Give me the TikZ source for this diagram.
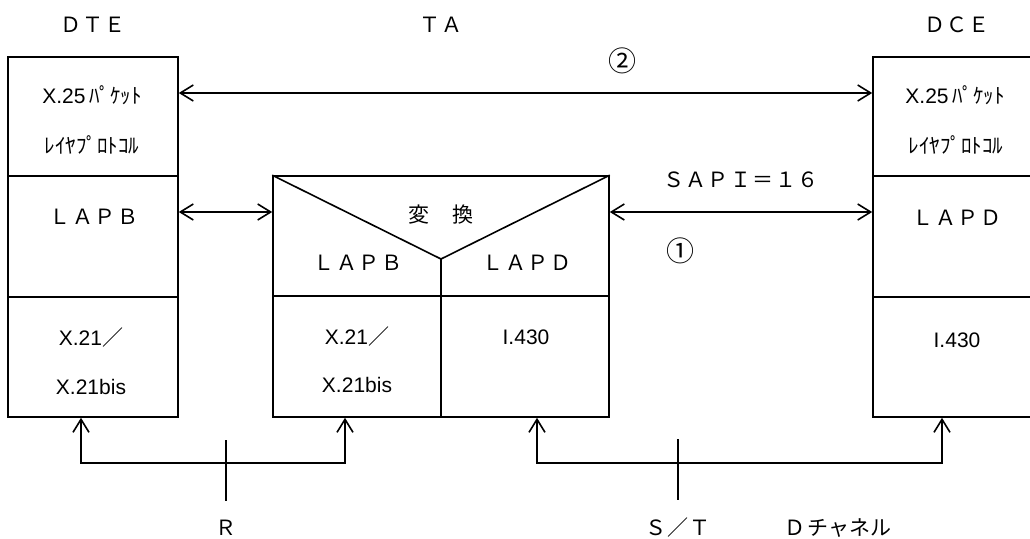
\documentclass[tikz,border=0pt]{standalone}
\usepackage{fontspec}
\setmainfont{Liberation Sans}
\newfontfamily\jpfont{Noto Sans CJK JP}
\usetikzlibrary{arrows.meta}
\def\fwk{1.5pt}
\newcommand\fwsp[1]{\fwspB#1\relax}
\def\fwspB#1{#1\fwspA}
\def\fwspA#1{\ifx\relax#1\else\kern\fwk #1\expandafter\fwspA\fi}
\begin{document}
\begin{tikzpicture}[x=1pt,y=-1pt,
  box/.style={draw, line width=1.6pt, rectangle, inner sep=0pt},
  conn/.style={line width=1.6pt},
  arr/.style={conn, {Straight Barb[length=13pt,width=16pt]}-{Straight Barb[length=13pt,width=16pt]}},
  fw/.style={font=\jpfont\fontsize{21}{25}\selectfont, inner sep=0pt},
  lat/.style={font=\fontsize{21}{25}\selectfont, inner sep=0pt},
  kana/.style={font=\fontsize{21}{25}\selectfont, inner sep=0pt},
  circ/.style={font=\jpfont\fontsize{28}{32}\selectfont, inner sep=0pt}]
\useasboundingbox (0,0) rectangle (1030,538);
% boxes
\node[box, minimum width=170pt, minimum height=360pt] (dte) at (93,237) {};
\node[box, minimum width=170pt, minimum height=360pt] (dce) at (958,237) {};
\node[box, minimum width=336pt, minimum height=241pt] (ta) at (441,296.5) {};
% interior lines
\draw[conn] (8,176) -- (178,176);
\draw[conn] (8,297) -- (178,297);
\draw[conn] (873,176) -- (1043,176);
\draw[conn] (873,297) -- (1043,297);
\coordinate (vtip) at (441,259);
\draw[conn] (ta.north west) -- (vtip) -- (ta.north east);
\draw[conn] (vtip) -- (ta.south);
\draw[conn] (273,296) -- (609,296);
% titles
\node[fw] (tdte) at (93,25) {\fwsp{ＤＴＥ}};
\node[fw] (tta) at (441,25) {\fwsp{ＴＡ}};
\node[fw] (tdce) at (957,25) {\fwsp{ＤＣＥ}};
% DTE texts
\node[kana] (d1) at (92,95) {X.25\,{\jpfont ﾊﾟｹｯﾄ}};
\node[kana] (d2) at (92,145) {\jpfont ﾚｲﾔﾌﾟﾛﾄｺﾙ};
\node[fw] (d3) at (94,217) {\fwsp{ＬＡＰＢ}};
\node[lat] (d4) at (91,338) {X.21{\jpfont ／}};
\node[lat] (d5) at (91,387) {X.21bis};
% DCE texts
\node[kana] (c1) at (955,95) {X.25\,{\jpfont ﾊﾟｹｯﾄ}};
\node[kana] (c2) at (956,145) {\jpfont ﾚｲﾔﾌﾟﾛﾄｺﾙ};
\node[fw] (c3) at (957,218) {\fwsp{ＬＡＰＤ}};
\node[lat] (c4) at (957,340) {I.430};
% TA texts
\node[font=\jpfont\fontsize{21}{25}\selectfont, inner sep=0pt] (t1) at (441,215) {変\kern24pt換};
\node[fw] (t2) at (358,263) {\fwsp{ＬＡＰＢ}};
\node[fw] (t3) at (527,263) {\fwsp{ＬＡＰＤ}};
\node[lat] (t4) at (357,337) {X.21{\jpfont ／}};
\node[lat] (t5) at (357,385) {X.21bis};
\node[lat] (t6) at (526,337) {I.430};
% top connectors
\coordinate (y93) at (500,93);
\coordinate (y212) at (500,212);
\draw[arr] (dte.east |- y93) -- (dce.west |- y93);
\draw[arr] (dte.east |- y212) -- (ta.west |- y212);
\draw[arr] (ta.east |- y212) -- (dce.west |- y212);
\node[circ] (n2) at (622,61) {②};
\node[fw] (sapi) at (741,180) {\fwsp{ＳＡＰＩ＝１６}};
\node[circ] (n1) at (680,251) {①};
% bottom connectors
\coordinate (rL) at (81,463);
\coordinate (rR) at (345,463);
\draw[arr] (dte.south -| rL) -- (rL) -- (rR) -- (ta.south -| rR);
\coordinate (rt1) at (226,440);
\coordinate (rt2) at (226,501);
\draw[conn] (rt1) -- (rt2);
\node[fw] (lr) at (226,528) {Ｒ};
\coordinate (sL) at (537,463);
\coordinate (sR) at (942,463);
\draw[arr] (ta.south -| sL) -- (sL) -- (sR) -- (dce.south -| sR);
\coordinate (st1) at (678,439);
\coordinate (st2) at (678,500);
\draw[conn] (st1) -- (st2);
\node[fw] (lst) at (678,528) {\fwsp{Ｓ／Ｔ}};
\node[fw] (ldch) at (838,528) {\fwsp{Ｄ}\kern\fwk チャネル};
\end{tikzpicture}
\end{document}
